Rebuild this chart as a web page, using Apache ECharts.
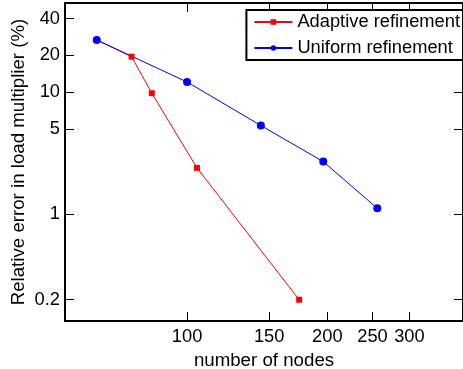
<!DOCTYPE html>
<html><head><meta charset="utf-8">
<script src="https://cdn.jsdelivr.net/npm/echarts@6/dist/echarts.min.js"></script>
<style>html,body{margin:0;padding:0;background:#fff}#c{width:463px;height:369px}</style>
</head><body><div id="c"></div>
<script>
const adaptiveNodes = [64, 76, 84, 105, 174];
const adaptiveError = [26.7, 19.5, 9.8, 2.4, 0.2];
const uniformNodes = [64, 100, 144, 196, 256];
const uniformError = [26.7, 12.1, 5.33, 2.7, 1.12];
const xTicks = [100, 150, 200, 250, 300];
const yTicks = [0.2, 1, 5, 10, 20, 40];

const FONT = '"Liberation Sans", Arial, sans-serif';
const fmt = v => String(+(+v).toPrecision(6));

function xAx(pos, main) {
  return {
    type: 'log', logBase: 10, position: pos, min: 54.7, max: 391,
    axisLine: {show: true, onZero: false, lineStyle: {color: '#000', width: 2}},
    axisTick: {show: true, inside: true, length: 9, customValues: xTicks, lineStyle: {color: '#000', width: 1}},
    axisLabel: {show: main, customValues: xTicks, margin: 7, color: '#000', fontSize: 18.3, fontFamily: FONT, formatter: fmt},
    splitLine: {show: false}, minorTick: {show: false}, minorSplitLine: {show: false},
    name: main ? 'number of nodes' : '', nameLocation: 'middle', nameGap: 27,
    nameTextStyle: {color: '#000', fontSize: 18.7, fontFamily: FONT}
  };
}
function yAx(pos, main) {
  return {
    type: 'log', logBase: 10, position: pos, min: 0.134, max: 53.6,
    axisLine: {show: true, onZero: false, lineStyle: {color: '#000', width: 2}},
    axisTick: {show: true, inside: true, length: 9, customValues: yTicks, lineStyle: {color: '#000', width: 1}},
    axisLabel: {show: main, customValues: yTicks, margin: 5, color: '#000', fontSize: 18.3, fontFamily: FONT, formatter: fmt},
    splitLine: {show: false}, minorTick: {show: false}, minorSplitLine: {show: false},
    name: main ? 'Relative error in load multiplier (%)' : '', nameLocation: 'middle', nameGap: 37,
    nameMoveOverlap: false,
    nameTextStyle: {color: '#000', fontSize: 18.7, fontFamily: FONT}
  };
}

const chart = echarts.init(document.getElementById('c'), null, {renderer: 'canvas'});
chart.setOption({
  animation: false,
  backgroundColor: '#fff',
  grid: {left: 65, right: 0, top: 3, bottom: 48, containLabel: false, outerBoundsMode: 'none'},
  xAxis: [xAx('bottom', true), xAx('top', false)],
  yAxis: [yAx('left', true), yAx('right', false)],
  legend: {
    right: 0, top: 10, orient: 'vertical', align: 'left',
    itemWidth: 38, itemHeight: 7, itemGap: 8,
    padding: [3, 3, 3, 7],
    borderColor: '#000', borderWidth: 2, backgroundColor: '#fff',
    textStyle: {fontSize: 18.3, fontFamily: FONT, color: '#000'},
    data: ['Adaptive refinement', 'Uniform refinement']
  },
  series: [
    {
      name: 'Adaptive refinement', type: 'line', xAxisIndex: 0, yAxisIndex: 0,
      data: adaptiveNodes.map((n, i) => [n, adaptiveError[i]]),
      symbol: 'rect', symbolSize: 6,
      lineStyle: {color: '#ff0000', width: 1}, itemStyle: {color: '#ff0000'}
    },
    {
      name: 'Uniform refinement', type: 'line', xAxisIndex: 0, yAxisIndex: 0,
      data: uniformNodes.map((n, i) => [n, uniformError[i]]),
      symbol: 'circle', symbolSize: 8,
      lineStyle: {color: '#0000ff', width: 1}, itemStyle: {color: '#0000ff'}
    }
  ]
});
</script></body></html>
